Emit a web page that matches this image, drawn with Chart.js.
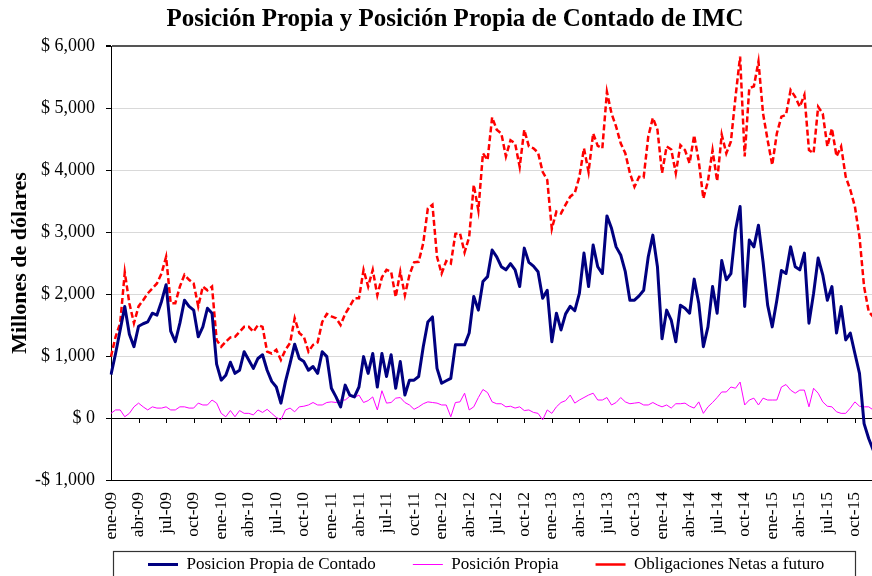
<!DOCTYPE html>
<html lang="es">
<head>
<meta charset="utf-8">
<title>Posición Propia IMC</title>
<script src="https://cdn.jsdelivr.net/npm/chart.js@4.4.1/dist/chart.umd.min.js"></script>
<style>
  html, body { margin: 0; padding: 0; background: #fff; overflow: hidden; }
  #marco { width: 872px; height: 576px; overflow: hidden; position: relative; }
  canvas { display: block; }
</style>
</head>
<body>
<div id="marco"><canvas id="grafica" width="910" height="610" style="width:910px;height:610px"></canvas></div>
<script>
// Etiquetas del eje X: dos quincenas por mes, desde ene-09
const meses = ['ene', 'feb', 'mar', 'abr', 'may', 'jun', 'jul', 'ago', 'sep', 'oct', 'nov', 'dic'];
const anioInicial = 2009;
const totalEtiquetas = 175;

// Millones de dólares, una lectura por quincena
const contado = [700, 1040, 1420, 1800, 1350, 1150, 1480, 1520, 1550, 1690,
  1660, 1880, 2150, 1400, 1230, 1530, 1900, 1800, 1740, 1310,
  1470, 1770, 1690, 870, 610, 690, 900, 720, 770, 1070,
  935, 800, 960, 1020, 770, 590, 500, 240, 590, 880,
  1190, 960, 910, 770, 830, 720, 1070, 990, 480, 340,
  180, 530, 370, 340, 500, 990, 720, 1040, 500, 1040,
  670, 1020, 480, 910, 370, 610, 610, 670, 1150, 1550,
  1630, 800, 560, 600, 640, 1180, 1180, 1180, 1370, 1960,
  1740, 2200, 2280, 2710, 2600, 2440, 2390, 2490, 2390, 2120,
  2740, 2510, 2450, 2360, 1930, 2060, 1230, 1690, 1420, 1680,
  1800, 1730, 2010, 2660, 2120, 2790, 2440, 2330, 3260, 3060,
  2760, 2630, 2360, 1900, 1900, 1970, 2060, 2600, 2950, 2440,
  1280, 1740, 1580, 1230, 1820, 1770, 1690, 2240, 1850, 1150,
  1470, 2120, 1690, 2540, 2230, 2330, 3030, 3410, 1800, 2870,
  2760, 3110, 2520, 1820, 1470, 1900, 2380, 2330, 2760, 2440,
  2390, 2660, 1530, 2010, 2580, 2310, 1900, 2120, 1370, 1800,
  1260, 1370, 1040, 720, -90, -330, -520];

const propia = [75, 130, 130, 20, 75, 180, 240, 180, 130, 180,
  160, 160, 180, 130, 130, 180, 180, 160, 160, 240,
  210, 210, 290, 240, 75, 20, 120, 20, 120, 75,
  75, 50, 130, 90, 140, 75, 10, -30, 130, 160,
  100, 180, 190, 210, 250, 210, 210, 250, 260, 250,
  290, 290, 350, 330, 370, 250, 280, 340, 130, 440,
  240, 250, 320, 330, 250, 210, 140, 180, 230, 260,
  250, 240, 210, 210, 20, 250, 260, 400, 130, 180,
  330, 460, 410, 260, 230, 230, 180, 190, 160, 180,
  120, 130, 90, 75, -30, 130, 75, 180, 250, 280,
  370, 240, 290, 330, 370, 400, 290, 290, 330, 210,
  250, 330, 260, 230, 240, 250, 210, 210, 250, 210,
  180, 210, 160, 230, 230, 240, 190, 160, 260, 75,
  180, 250, 330, 420, 420, 500, 480, 580, 210, 290,
  320, 210, 320, 290, 290, 290, 500, 540, 450, 400,
  450, 450, 180, 480, 400, 260, 190, 180, 100, 75,
  75, 160, 260, 190, 180, 180, 130];

const obligaciones = [990, 1310, 1530, 2350, 1850, 1530, 1800, 1900, 2010, 2090,
  2170, 2330, 2600, 1850, 1850, 2120, 2310, 2230, 2170, 1800,
  2120, 2060, 2120, 1260, 1150, 1230, 1300, 1310, 1390, 1470,
  1470, 1390, 1500, 1470, 1070, 1040, 1100, 935, 1100, 1210,
  1610, 1370, 1310, 1070, 1180, 1220, 1550, 1680, 1640, 1610,
  1500, 1680, 1800, 1930, 1930, 2390, 2120, 2390, 1980, 2270,
  2390, 2360, 1950, 2360, 1980, 2310, 2510, 2520, 2820, 3380,
  3440, 2600, 2330, 2530, 2490, 2970, 2980, 2670, 2920, 3760,
  3350, 4270, 4160, 4850, 4650, 4590, 4220, 4480, 4430, 4050,
  4650, 4380, 4350, 4280, 3970, 3840, 3050, 3330, 3300, 3440,
  3570, 3630, 3890, 4350, 3970, 4590, 4390, 4350, 5260, 4910,
  4700, 4430, 4270, 3950, 3730, 3890, 3880, 4540, 4840, 4650,
  3950, 4380, 4330, 3950, 4400, 4320, 4110, 4560, 4140, 3540,
  3820, 4320, 3820, 4570, 4270, 4460, 5180, 5830, 4220, 5320,
  5350, 5750, 4910, 4480, 4080, 4590, 4860, 4890, 5290, 5180,
  5020, 5210, 4320, 4270, 5020, 4910, 4380, 4670, 4220, 4380,
  3890, 3680, 3410, 2920, 2120, 1720, 1630];

// Construir las etiquetas tipo "ene-09"
const etiquetas = [];
for (let k = 0; k < totalEtiquetas; k++) {
    const m = Math.floor(k / 2);
    const anio = (anioInicial + Math.floor(m / 12)) % 100;
    etiquetas.push(meses[m % 12] + '-' + String(anio).padStart(2, '0'));
}

// Formato de moneda del eje Y
function formatoDolares(v) {
    const n = Math.abs(v).toLocaleString('en-US');
    return (v < 0 ? '-$ ' : '$ ') + n;
}

// Marcas trimestrales sobre la línea de cero y recuadro de la leyenda
const marcas = {
    id: 'marcas',
    afterLayout(chart) {
        // subir la leyenda para que quede pegada a las etiquetas del eje
        chart.legend.top -= 27;
        chart.legend.bottom -= 27;
    },
    afterDraw(chart) {
        const {ctx, scales: {x, y}} = chart;
        const y0 = Math.round(y.getPixelForValue(0));
        ctx.save();
        ctx.strokeStyle = '#000';
        ctx.lineWidth = 1;
        ctx.beginPath();
        for (let k = 6; k < etiquetas.length; k += 6) {
            const px = Math.round(x.getPixelForValue(k)) + 0.5;
            ctx.moveTo(px, y0);
            ctx.lineTo(px, y0 + 5);
        }
        ctx.stroke();
        const ley = chart.legend;
        ctx.strokeStyle = '#333';
        ctx.lineWidth = 1.2;
        ctx.strokeRect(x.left + 2.5, ley.top + 32.5, 742, 60);
        ctx.restore();
    }
};

Chart.defaults.font.family = "'Liberation Serif', 'Times New Roman', serif";
Chart.defaults.color = '#000';

new Chart(document.getElementById('grafica').getContext('2d'), {
    type: 'line',
    data: {
        labels: etiquetas,
        datasets: [
            {
                label: 'Posicion Propia de Contado',
                data: contado,
                borderColor: '#000080',
                backgroundColor: '#000080',
                borderWidth: 3,
                borderJoinStyle: 'round',
                pointStyle: 'line'
            },
            {
                label: 'Posición Propia',
                data: propia,
                borderColor: '#ff00ff',
                backgroundColor: '#ff00ff',
                borderWidth: 1,
                pointStyle: 'line'
            },
            {
                label: 'Obligaciones Netas a futuro',
                data: obligaciones,
                borderColor: '#ff0000',
                backgroundColor: '#ff0000',
                borderWidth: 2.5,
                borderDash: [6, 3],
                pointStyle: 'line'
            }
        ]
    },
    options: {
        responsive: false,
        animation: false,
        devicePixelRatio: 1,
        events: [],
        elements: {
            point: { radius: 0 },
            line: { tension: 0, fill: false }
        },
        layout: { padding: 0 },
        scales: {
            x: {
                grid: { display: false, drawTicks: false },
                border: { display: true, color: '#000', width: 1 },
                ticks: {
                    autoSkip: false,
                    maxRotation: 90,
                    minRotation: 90,
                    padding: 12,
                    font: { size: 17.5 },
                    callback: function(value, index) {
                        return index % 6 === 0 ? this.getLabelForValue(value) : '';
                    }
                },
                afterFit: function(scale) {
                    scale.height = 66;
                    scale.paddingLeft = 0;
                    scale.paddingRight = 0;
                }
            },
            y: {
                min: -1000,
                max: 6000,
                ticks: {
                    stepSize: 1000,
                    padding: 11,
                    font: { size: 18 },
                    callback: value => formatoDolares(value)
                },
                grid: {
                    color: c => c.tick.value === 0 ? '#000' : (c.tick.value === 6000 ? '#555' : (c.tick.value === -1000 ? '#000' : '#d9d9d9')),
                    lineWidth: c => c.tick.value === 6000 ? 2 : 1,
                    tickColor: '#000',
                    tickLength: 5
                },
                border: { display: true, color: '#000', width: 1 },
                title: {
                    display: true,
                    text: 'Millones de dólares',
                    font: { size: 22, weight: 'bold' },
                    padding: { top: 7, bottom: 0 }
                },
                afterFit: function(scale) {
                    scale.width = 111;
                }
            }
        },
        plugins: {
            title: {
                display: true,
                text: 'Posición Propia y Posición Propia de Contado de IMC',
                font: { size: 25, weight: 'bold' },
                padding: { top: 5, bottom: 11 }
            },
            legend: {
                position: 'bottom',
                align: 'start',
                fullSize: false,
                labels: {
                    usePointStyle: true,
                    pointStyleWidth: 30,
                    padding: 37,
                    font: { size: 17 }
                }
            },
            tooltip: { enabled: false }
        }
    },
    plugins: [marcas]
});
</script>
</body>
</html>
